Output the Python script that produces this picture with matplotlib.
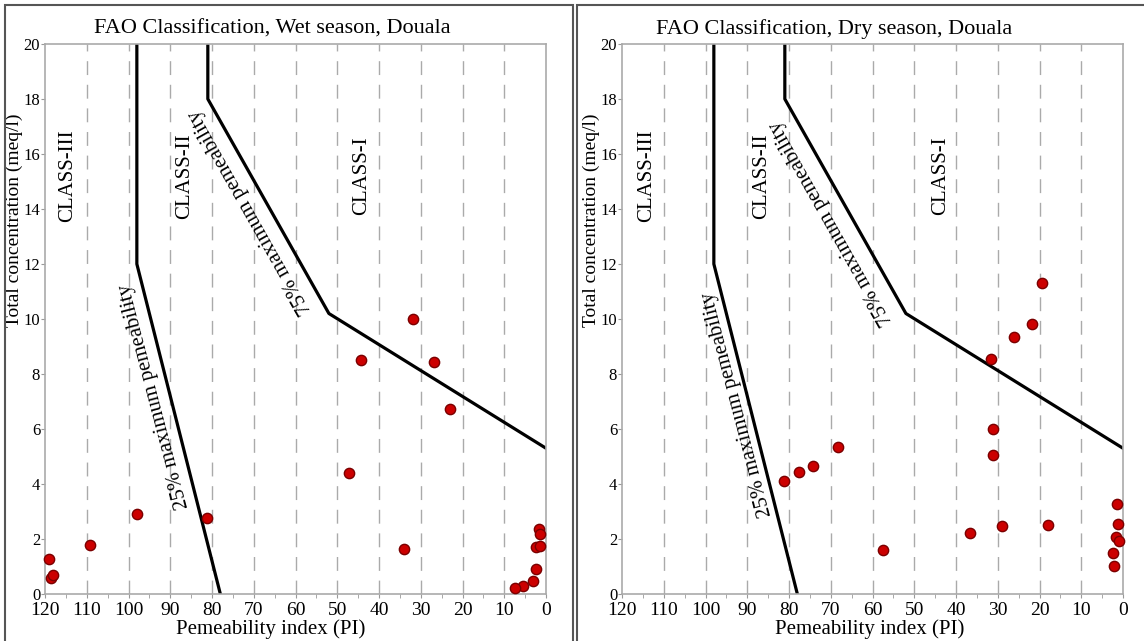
import matplotlib
matplotlib.use("Agg")
from matplotlib import pyplot as plt
from matplotlib.patches import Rectangle
import numpy as np

plt.rcParams['font.family'] = ['Liberation Serif', 'DejaVu Serif']

# boundary lines (PI, total concentration)
line25_pi = [98, 98, 78]
line25_tc = [20, 12, 0]
line75_pi = [81, 81, 52, 0]
line75_tc = [20, 18, 10.2, 5.3]

# wet season samples
wet_pi = [119.1, 118.5, 118.0, 109.2, 97.9, 81.3, 31.8, 44.4, 26.8, 23.0, 47.2,
          33.9, 1.6, 1.4, 2.5, 1.4, 2.5, 3.2, 5.4, 7.4]
wet_tc = [1.26, 0.57, 0.69, 1.77, 2.90, 2.78, 10.0, 8.52, 8.45, 6.73, 4.40,
          1.65, 2.36, 2.17, 1.71, 1.75, 0.90, 0.47, 0.29, 0.22]

# dry season samples
dry_pi = [81.2, 77.5, 74.2, 68.3, 19.4, 21.8, 26.2, 31.6, 31.1, 31.1, 57.6,
          36.7, 28.9, 18.0, 1.4, 1.3, 1.7, 1.0, 2.5, 2.1]
dry_tc = [4.12, 4.44, 4.67, 5.36, 11.31, 9.81, 9.33, 8.56, 6.0, 5.04, 1.59,
          2.23, 2.49, 2.52, 3.27, 2.53, 2.06, 1.94, 1.48, 1.03]

W, H = 1144, 641
fig = plt.figure(figsize=(W / 100, H / 100), dpi=100)

# panel frames
for x0, x1 in [(5, 573), (577, 1150)]:
    fig.patches.append(Rectangle((x0 / W, -0.01), (x1 - x0) / W, (H - 5) / H + 0.01,
                                 transform=fig.transFigure, fill=False,
                                 edgecolor='#555555', linewidth=1.5))

panels = [
    dict(left=45, title='FAO Classification, Wet season, Douala', tx=0.453, xlx=0.45,
         pi=wet_pi, tc=wet_tc, t25=(93.8, 7.2), t75=(70.7, 13.9),
         cls=[(114.6, 'CLASS-III'), (86.6, 'CLASS-II'), (44.1, 'CLASS-I')]),
    dict(left=622, title='FAO Classification, Dry season, Douala', tx=0.423, xlx=0.495,
         pi=dry_pi, tc=dry_tc, t25=(92.4, 6.9), t75=(69.9, 13.5),
         cls=[(114.0, 'CLASS-III'), (86.5, 'CLASS-II'), (43.8, 'CLASS-I')]),
]

for p in panels:
    ax = fig.add_axes([p['left'] / W, (H - 594) / H, 501 / W, 550 / H])
    ax.set_xlim(120, 0)
    ax.set_ylim(0, 20)
    ax.set_xticks(np.arange(0, 121, 10))
    ax.set_xticks(np.arange(5, 120, 10), minor=True)
    ax.set_yticks(np.arange(0, 21, 2))
    for s in ax.spines.values():
        s.set_color('#aaaaaa')
        s.set_linewidth(1.2)
    ax.tick_params(axis='both', which='both', colors='#999999', labelcolor='black',
                   labelsize=14, length=3, direction='out', pad=3)
    ax.tick_params(axis='y', labelsize=12, pad=0.5)
    ax.tick_params(axis='x', which='minor', length=3)
    for xv in range(10, 120, 10):
        ax.axvline(xv, color='#aaaaaa', linewidth=1, linestyle=(0, (10, 7)), zorder=0)

    ax.plot(line25_pi, line25_tc, color='black', linewidth=2.3, zorder=2)
    ax.plot(line75_pi, line75_tc, color='black', linewidth=2.3, zorder=2)

    ax.scatter(p['pi'], p['tc'], s=55, color='#cc0000', edgecolors='#7a0000',
               linewidths=1, zorder=3, clip_on=False)

    for xv, lab in p['cls']:
        ax.text(xv, 15.2, lab, rotation=90, fontsize=15, ha='center', va='center')
    ax.text(*p['t25'], '25% maximum pemeability', rotation=104.7, fontsize=15,
            ha='center', va='center', rotation_mode='anchor')
    ax.text(*p['t75'], '75% maximum pemeability', rotation=119.5, fontsize=15,
            ha='center', va='center', rotation_mode='anchor')

    ax.text(p['tx'], 1.028, p['title'], transform=ax.transAxes, fontsize=16,
            ha='center', va='center')
    ax.set_xlabel('Pemeability index (PI)', fontsize=15, labelpad=0)
    ax.xaxis.set_label_coords(p['xlx'], -0.046)
    ax.set_ylabel('Total concentration (meq/l)', fontsize=14)
    ax.yaxis.set_label_coords(-0.044, 0.68)

fig.savefig('out.png', dpi=100)
